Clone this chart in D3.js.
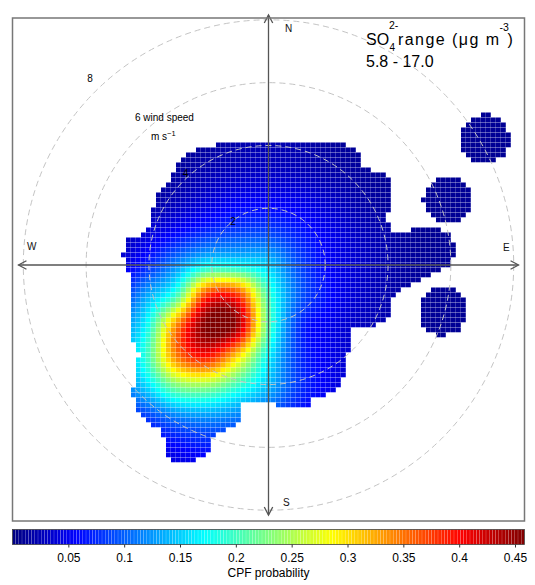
<!DOCTYPE html>
<html><head><meta charset="utf-8">
<script src="https://cdn.jsdelivr.net/npm/d3@7"></script>
<style>
body{margin:0;background:#fff}
svg{display:block}
text{font-family:"Liberation Sans",Arial,Helvetica,sans-serif}
</style>
</head><body>
<svg id="chart" width="535" height="585"></svg>
<script>
// ---------------- DATA ----------------
// wind component grid nodes (m/s) of the CPF surface
const uNodes = [-5,-4,-3,-2,-1,0,1,2,3,4,5,6,7,8];
const vNodes = [5,4,3,2,1,0,-1,-2,-3,-4,-5,-6,-7];
const cpfRows = [
  [0.01,0.01,0.01,0.01,0.012,0.012,0.01,0.01,0.01,0.01,0.01,0.01,0.01,0.01],
  [0.01,0.01,0.01,0.014,0.02,0.022,0.02,0.014,0.01,0.01,0.01,0.01,0.01,0.01],
  [0.01,0.01,0.016,0.024,0.03,0.032,0.028,0.02,0.014,0.01,0.01,0.01,0.01,0.01],
  [0.01,0.016,0.028,0.042,0.055,0.056,0.05,0.035,0.02,0.012,0.01,0.01,0.01,0.01],
  [0.02,0.04,0.06,0.08,0.09,0.09,0.07,0.05,0.03,0.018,0.01,0.01,0.01,0.01],
  [0.04,0.07,0.12,0.17,0.17,0.15,0.09,0.055,0.035,0.02,0.012,0.01,0.01,0.01],
  [0.07,0.13,0.2,0.38,0.38,0.20,0.10,0.06,0.035,0.02,0.012,0.01,0.01,0.01],
  [0.12,0.17,0.34,0.46,0.44,0.21,0.08,0.05,0.03,0.02,0.012,0.01,0.01,0.01],
  [0.12,0.19,0.34,0.39,0.30,0.17,0.08,0.05,0.03,0.02,0.01,0.01,0.01,0.01],
  [0.10,0.15,0.22,0.23,0.19,0.14,0.08,0.05,0.03,0.02,0.01,0.01,0.01,0.01],
  [0.06,0.08,0.11,0.12,0.11,0.09,0.06,0.04,0.025,0.015,0.01,0.01,0.01,0.01],
  [0.03,0.045,0.055,0.065,0.06,0.05,0.04,0.03,0.02,0.01,0.01,0.01,0.01,0.01],
  [0.03,0.03,0.04,0.04,0.04,0.04,0.03,0.02,0.015,0.01,0.01,0.01,0.01,0.01]
];
// outline of the region covered by observations (u, v in m/s)
const coveredOutline = [
  [-2.56,3.65],[-2.01,3.85],[-1.26,4.01],[-0.05,4.01],[0.15,3.91],[0.60,4.01],[1.68,4.01],[2.76,3.88],
  [2.98,3.65],[3.05,3.16],[3.41,3.10],[3.86,2.90],[4.03,2.61],[4.03,1.89],[3.86,1.63],[3.93,1.20],
  [4.20,0.98],[4.50,1.10],[4.80,1.25],[5.36,1.27],[5.91,1.04],[6.14,0.49],[5.91,-0.06],[5.36,-0.29],
  [4.94,-0.49],[4.61,-0.68],[4.29,-0.88],[3.96,-1.14],[3.90,-1.86],[3.47,-1.99],[2.72,-2.02],
  [2.66,-2.61],[2.56,-3.10],[2.49,-3.59],[2.27,-4.01],[1.94,-4.24],[1.45,-4.34],[1.39,-4.60],[0.86,-4.66],
  [0.37,-4.66],[0.11,-4.53],[-0.11,-4.40],[-0.60,-4.43],[-0.83,-4.56],[-0.86,-5.05],[-1.06,-5.31],[-1.58,-5.45],
  [-1.84,-5.64],[-1.91,-6.10],[-2.07,-6.29],[-2.56,-6.39],[-3.15,-6.36],[-3.34,-6.10],[-3.41,-5.71],[-3.47,-5.38],
  [-3.80,-5.25],[-4.12,-4.99],[-4.35,-4.73],[-4.42,-4.24],[-4.39,-3.75],[-4.32,-3.16],[-4.16,-2.97],[-4.35,-2.71],
  [-4.48,-2.28],[-4.52,-1.14],[-4.52,-0.59],[-4.45,-0.39],[-4.61,-0.23],[-4.68,0.00],[-4.74,0.33],[-4.71,0.65],
  [-4.52,0.88],[-4.19,0.95],[-3.93,1.08],[-3.86,1.47],[-3.77,1.86],[-3.60,2.28],[-3.44,2.51],[-3.28,2.67],
  [-3.11,2.93],[-3.05,3.26],[-2.89,3.42]
];
// isolated observations (u, v in m/s) and their coverage radius
const isolatedObs = [[7.06,4.11],[5.85,2.12],[5.69,-1.50]];
const obsRadius = 0.8;
const ringSpeeds = [2,4,6,8];
const colorTicks = [0.05,0.1,0.15,0.2,0.25,0.3,0.35,0.4,0.45];
const jetColours = ["#00007F","#0000FF","#007FFF","#00FFFF","#7FFF7F","#FFFF00","#FF7F00","#FF0000","#7F0000"];
const cpfMax = 0.4585;
const upperWs = 8.15;
const gridCount = 101;

// ---------------- LAYOUT ----------------
const svg = d3.select("#chart");
const cx = 268.5, cy = 265, R = 250;
const frame = {x0:12.5, y0:18, x1:524.5, y1:521};

const xS = d3.scaleLinear().domain([-upperWs, upperWs]).range([cx - R, cx + R]);
const yS = d3.scaleLinear().domain([-upperWs, upperWs]).range([cy + R, cy - R]);
const ringR = d3.scaleLinear().domain([2, 8]).range([56.7, 245.2]);
const colour = d3.scaleLinear()
  .domain(jetColours.map((c, i) => i / (jetColours.length - 1) * cpfMax))
  .range(jetColours).clamp(true);

// Catmull-Rom surface through the read grid nodes
function cr(p0, p1, p2, p3, t) {
  return 0.5 * (2*p1 + (-p0 + p2)*t + (2*p0 - 5*p1 + 4*p2 - p3)*t*t + (-p0 + 3*p1 - 3*p2 + p3)*t*t*t);
}
function node(i, j) {
  i = Math.max(0, Math.min(uNodes.length - 1, i));
  j = Math.max(0, Math.min(vNodes.length - 1, j));
  return cpfRows[j][i];
}
function cpfAt(u, v) {
  const fi = (u - uNodes[0]) / (uNodes[1] - uNodes[0]);
  const fj = (v - vNodes[0]) / (vNodes[1] - vNodes[0]);
  const i = Math.floor(fi), j = Math.floor(fj);
  const tu = fi - i, tv = fj - j;
  const cols = [];
  for (let k = -1; k <= 2; k++) {
    cols.push(cr(node(i-1, j+k), node(i, j+k), node(i+1, j+k), node(i+2, j+k), tu));
  }
  return Math.max(0, cr(cols[0], cols[1], cols[2], cols[3], tv));
}
function covered(u, v) {
  if (d3.polygonContains(coveredOutline, [u, v])) return true;
  return isolatedObs.some(p => Math.hypot(p[0] - u, p[1] - v) <= obsRadius);
}

// cells
const step = 2 * upperWs / (gridCount - 1);
const cells = [];
for (let a = 0; a < gridCount; a++) {
  for (let b = 0; b < gridCount; b++) {
    const u = -upperWs + a * step, v = -upperWs + b * step;
    if (covered(u, v)) cells.push({u, v, z: cpfAt(u, v)});
  }
}
const cellPx = xS(step) - xS(0);
svg.append("g").selectAll("rect").data(cells).join("rect")
  .attr("x", d => xS(d.u) - cellPx/2)
  .attr("y", d => yS(d.v) - cellPx/2)
  .attr("width", cellPx - 0.22)
  .attr("height", cellPx - 0.22)
  .attr("fill", d => colour(d.z));

// rings
svg.append("g").selectAll("circle").data(ringSpeeds).join("circle")
  .attr("cx", cx).attr("cy", cy).attr("r", d => ringR(d))
  .attr("fill", "none").attr("stroke", "#c4c4c4").attr("stroke-width", 1)
  .attr("stroke-dasharray", "6,4");

// axes with open arrowheads
const axG = svg.append("g").attr("stroke", "#555").attr("stroke-width", 1.3).attr("fill", "none");
axG.append("line").attr("x1", cx).attr("y1", cy - R).attr("x2", cx).attr("y2", cy + R);
axG.append("line").attr("x1", cx - R).attr("y1", cy).attr("x2", cx + R).attr("y2", cy);
const ah = 9, ang = 28 * Math.PI / 180;
[[cx, cy - R, 0, -1], [cx, cy + R, 0, 1], [cx - R, cy, -1, 0], [cx + R, cy, 1, 0]].forEach(([x, y, dx, dy]) => {
  const bx = -dx, by = -dy;
  const p1 = [x + ah*(bx*Math.cos(ang) - by*Math.sin(ang)), y + ah*(bx*Math.sin(ang) + by*Math.cos(ang))];
  const p2 = [x + ah*(bx*Math.cos(-ang) - by*Math.sin(-ang)), y + ah*(bx*Math.sin(-ang) + by*Math.cos(-ang))];
  axG.append("path").attr("d", `M${p1[0]},${p1[1]}L${x},${y}L${p2[0]},${p2[1]}`);
});

// compass labels
const compass = [["N", 285, 32], ["S", 283, 506], ["W", 27, 250], ["E", 503, 251]];
svg.append("g").selectAll("text").data(compass).join("text")
  .attr("x", d => d[1]).attr("y", d => d[2]).attr("font-size", 10).attr("fill", "#111")
  .text(d => d[0]);

// ring labels
const ringLabels = [["2", 233, 225], ["4", 185.5, 177], ["8", 90, 82]];
svg.append("g").selectAll("text").data(ringLabels).join("text")
  .attr("x", d => d[1]).attr("y", d => d[2]).attr("text-anchor", "middle")
  .attr("font-size", 10).attr("fill", "#000").text(d => d[0]);
svg.append("text").attr("x", 135).attr("y", 121).attr("font-size", 10).attr("fill", "#000").text("6 wind speed");
const ms = svg.append("text").attr("x", 151).attr("y", 140).attr("font-size", 10).attr("fill", "#000");
ms.append("tspan").text("m s");
ms.append("tspan").attr("dy", -4).attr("font-size", 7.5).text("\u22121");

// title
const tf = 16;
svg.append("text").attr("x", 366).attr("y", 45).attr("font-size", tf).text("SO");
svg.append("text").attr("x", 389).attr("y", 29).attr("font-size", 10.5).text("2-");
svg.append("text").attr("x", 389.5).attr("y", 51).attr("font-size", 10).text("4");
svg.append("text").attr("x", 398).attr("y", 45).attr("font-size", tf)
  .attr("textLength", 101).attr("lengthAdjust", "spacing").text("range (\u03bcg m");
svg.append("text").attr("x", 499.5).attr("y", 31).attr("font-size", 10.5).text("-3");
svg.append("text").attr("x", 507.5).attr("y", 45).attr("font-size", tf).text(")");
svg.append("text").attr("x", 366).attr("y", 67).attr("font-size", tf).text("5.8 - 17.0");

// frame
svg.append("rect").attr("x", frame.x0).attr("y", frame.y0)
  .attr("width", frame.x1 - frame.x0).attr("height", frame.y1 - frame.y0)
  .attr("fill", "none").attr("stroke", "#777").attr("stroke-width", 1.5);

// colour key
const keyX = d3.scaleLinear().domain([0, cpfMax]).range([12.5, 524.5]);
const keyY0 = 529.5, keyH = 15;
const nSlices = 160;
const slices = d3.range(nSlices).map(i => i * cpfMax / nSlices);
svg.append("g").selectAll("rect").data(slices).join("rect")
  .attr("x", d => keyX(d)).attr("y", keyY0)
  .attr("width", keyX(cpfMax / nSlices) - keyX(0) - 0.2).attr("height", keyH)
  .attr("fill", d => colour(d + cpfMax / nSlices / 2));
svg.append("rect").attr("x", keyX(0)).attr("y", keyY0).attr("width", keyX(cpfMax) - keyX(0)).attr("height", keyH)
  .attr("fill", "none").attr("stroke", "#444").attr("stroke-width", 0.8);
const keyAxis = d3.axisBottom(keyX).tickValues(colorTicks).tickSize(3).tickFormat(d3.format("~g"));
const ka = svg.append("g").attr("transform", `translate(0,${keyY0 + keyH})`).call(keyAxis);
ka.select(".domain").remove();
ka.selectAll("text").attr("font-size", 12).attr("font-family", "Liberation Sans, Arial, sans-serif").attr("dy", "0.95em").attr("fill", "#000");
ka.selectAll("line").attr("stroke", "#333");
svg.append("text").attr("x", (keyX(0) + keyX(cpfMax)) / 2).attr("y", 577).attr("text-anchor", "middle")
  .attr("font-size", 12).text("CPF probability");
</script>
</body></html>
